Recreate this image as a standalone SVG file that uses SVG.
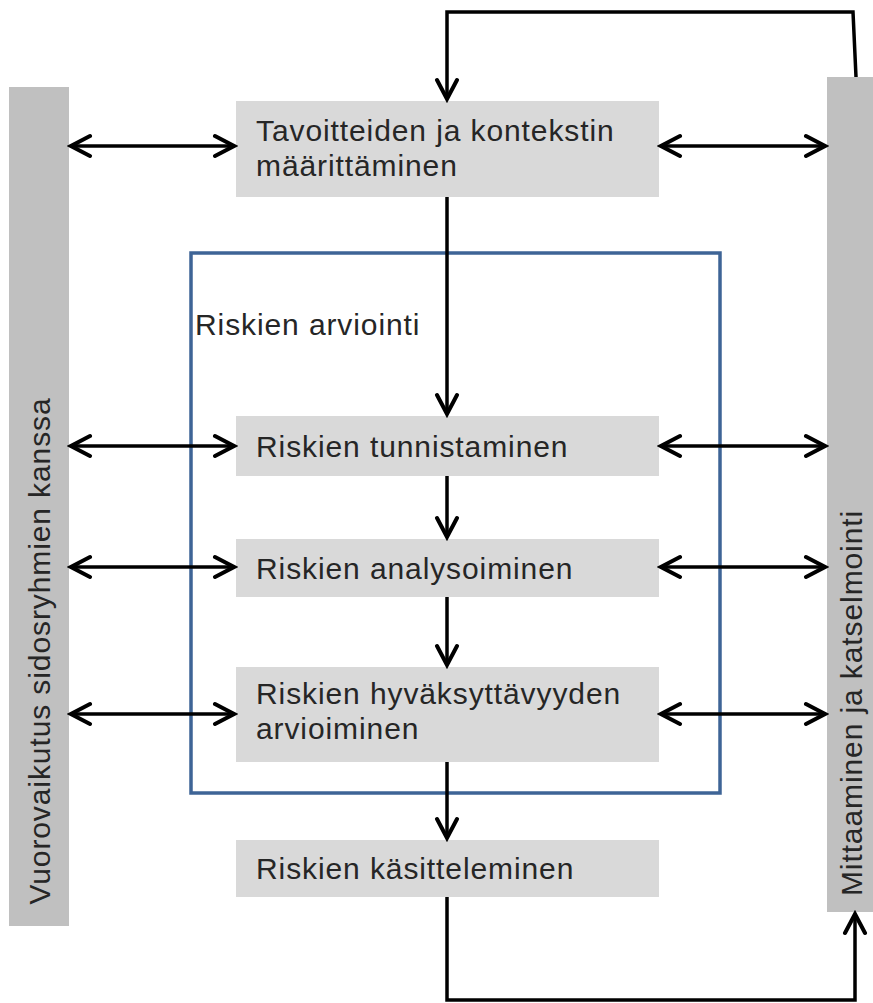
<svg xmlns="http://www.w3.org/2000/svg" width="873" height="1003" viewBox="0 0 873 1003">
<style>
.bar{fill:#c0c0c0}
.box{fill:#d9d9d9}
.t{font-family:"Liberation Sans",Arial,sans-serif;font-size:30px;fill:#262626;letter-spacing:0.9px}
.c{fill:none;stroke:#000;stroke-width:3.5}
.dbl{marker-start:url(#ah);marker-end:url(#ah)}
.one{marker-end:url(#ah)}
</style>
<defs>
<marker id="ah" markerUnits="userSpaceOnUse" viewBox="-24 -14 28 28" refX="0" refY="0" markerWidth="28" markerHeight="28" orient="auto-start-reverse">
<path d="M-19,-10 L0,0 L-19,10" fill="none" stroke="#000" stroke-width="4" stroke-linejoin="miter" stroke-linecap="round"/>
</marker>
</defs>
<rect width="873" height="1003" fill="#fff"/>
<g id="left-bar">
<rect class="bar" x="9" y="87" width="60" height="839"/>
<text class="t" transform="translate(50,651) rotate(-90)" text-anchor="middle">Vuorovaikutus sidosryhmien kanssa</text>
</g>
<g id="right-bar">
<rect class="bar" x="827" y="77" width="60" height="835"/>
<text class="t" transform="translate(862,703) rotate(-90)" text-anchor="middle">Mittaaminen ja katselmointi</text>
</g>
<g id="riskien-arviointi">
<rect x="191" y="253" width="529" height="540" fill="none" stroke="#3e6496" stroke-width="3.5"/>
<text class="t" x="195" y="335">Riskien arviointi</text>
</g>
<g id="tavoitteet">
<rect class="box" x="236" y="101" width="423" height="96"/>
<text class="t" x="256" y="141">Tavoitteiden ja kontekstin</text>
<text class="t" x="256" y="176">määrittäminen</text>
</g>
<g id="tunnistaminen">
<rect class="box" x="236" y="416" width="423" height="60"/>
<text class="t" x="256" y="457">Riskien tunnistaminen</text>
</g>
<g id="analysoiminen">
<rect class="box" x="236" y="539" width="423" height="58"/>
<text class="t" x="256" y="579">Riskien analysoiminen</text>
</g>
<g id="hyvaksyttavyys">
<rect class="box" x="236" y="667" width="423" height="95"/>
<text class="t" x="256" y="704">Riskien hyväksyttävyyden</text>
<text class="t" x="256" y="739">arvioiminen</text>
</g>
<g id="kasitteleminen">
<rect class="box" x="236" y="840" width="423" height="57"/>
<text class="t" x="256" y="879">Riskien käsitteleminen</text>
</g>
<g id="connectors">
<path class="c dbl" d="M71,146 H234"/>
<path class="c dbl" d="M661,146 H825"/>
<path class="c dbl" d="M71,446 H234"/>
<path class="c dbl" d="M661,446 H825"/>
<path class="c dbl" d="M71,567 H234"/>
<path class="c dbl" d="M661,567 H825"/>
<path class="c dbl" d="M71,714 H234"/>
<path class="c dbl" d="M661,714 H825"/>
<path class="c one" d="M447,197 V414"/>
<path class="c one" d="M447,476 V537"/>
<path class="c one" d="M447,597 V665"/>
<path class="c one" d="M447,762 V838"/>
<path class="c one" d="M856,77 L853,12 H447 V99"/>
<path class="c one" d="M447,897 V1000 H855 V914"/>
</g>
</svg>
